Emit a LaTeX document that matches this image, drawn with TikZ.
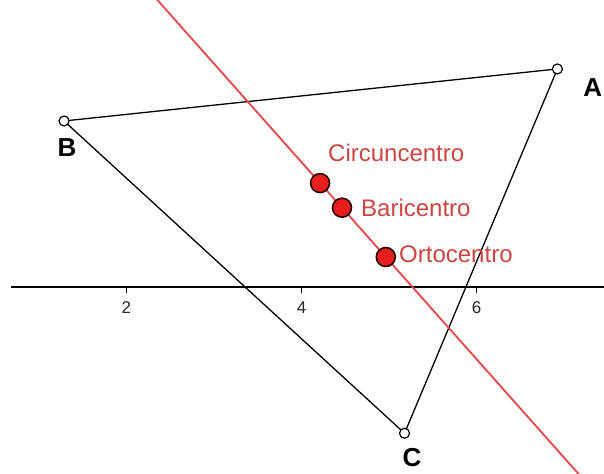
\documentclass[tikz,border=0pt]{standalone}
\usepackage{fontspec}
\setmainfont{Liberation Sans}
\usetikzlibrary{calc}
\definecolor{eulerred}{RGB}{226,72,72}
\definecolor{dotred}{RGB}{232,30,30}
\definecolor{labelred}{RGB}{204,68,68}
\tikzset{
  side/.style={draw=black, line width=1.3pt},
  axisline/.style={draw=black, line width=1.4pt},
  tickmark/.style={draw=black, line width=1.2pt},
  eulerline/.style={draw=eulerred, line width=1.8pt},
  vertexpt/.style={circle, draw=black, fill=white, line width=1.2pt, minimum size=10pt, inner sep=0pt},
  centerpt/.style={circle, draw=black!85!red, fill=dotred, line width=1.6pt, minimum size=19pt, inner sep=0pt},
  redlabel/.style={text=labelred, inner sep=0pt, anchor=base west, font=\fontsize{24}{28}\selectfont},
  vertexlabel/.style={text=black, inner sep=0pt, anchor=base, font=\fontsize{26}{30}\selectfont\bfseries},
  ticklabel/.style={text=black!85, inner sep=0pt, anchor=base, font=\fontsize{17}{19}\selectfont}
}
\begin{document}
\begin{tikzpicture}[x=87.6pt, y=87.6pt]
\useasboundingbox (0.558,-2.135) rectangle (7.453,3.276);
\clip (0.558,-2.135) rectangle (7.453,3.276);
% triangle vertices and centres
\coordinate (A) at (6.921,2.489);
\coordinate (B) at (1.289,1.895);
\coordinate (C) at (5.176,-1.670);
\coordinate (O) at (4.212,1.186);
\coordinate (G) at (4.462,0.905);
\coordinate (H) at (4.962,0.342);
% axis
\coordinate (axL) at (0.684,0);
\coordinate (axR) at (7.6,0);
\draw[axisline] (axL) -- (axR);
\foreach \k in {2,4,6} {
  \coordinate (t\k) at (\k,0);
  \draw[tickmark] (t\k) -- ++(0,-0.068);
  \node[ticklabel] (l\k) at (\k,-0.308) {\k};
}
% triangle
\draw[side] (A) -- (B) -- (C) -- cycle;
% Euler line
\draw[eulerline] ($(O)!-3!(H)$) -- ($(O)!5!(H)$);
% vertex points
\node[vertexpt] (pA) at (A) {};
\node[vertexpt] (pB) at (B) {};
\node[vertexpt] (pC) at (C) {};
% centres
\node[centerpt] (pO) at (O) {};
\node[centerpt] (pG) at (G) {};
\node[centerpt] (pH) at (H) {};
% labels
\node[redlabel] (lO) at (4.302,1.427) {Circuncentro};
\node[redlabel] (lG) at (4.679,0.799) {Baricentro};
\node[redlabel] (lH) at (5.113,0.274) {Ortocentro};
\node[vertexlabel] (lA) at (7.325,2.169) {A};
\node[vertexlabel] (lB) at (1.323,1.495) {B};
\node[vertexlabel] (lC) at (5.261,-2.055) {C};
\end{tikzpicture}
\end{document}
